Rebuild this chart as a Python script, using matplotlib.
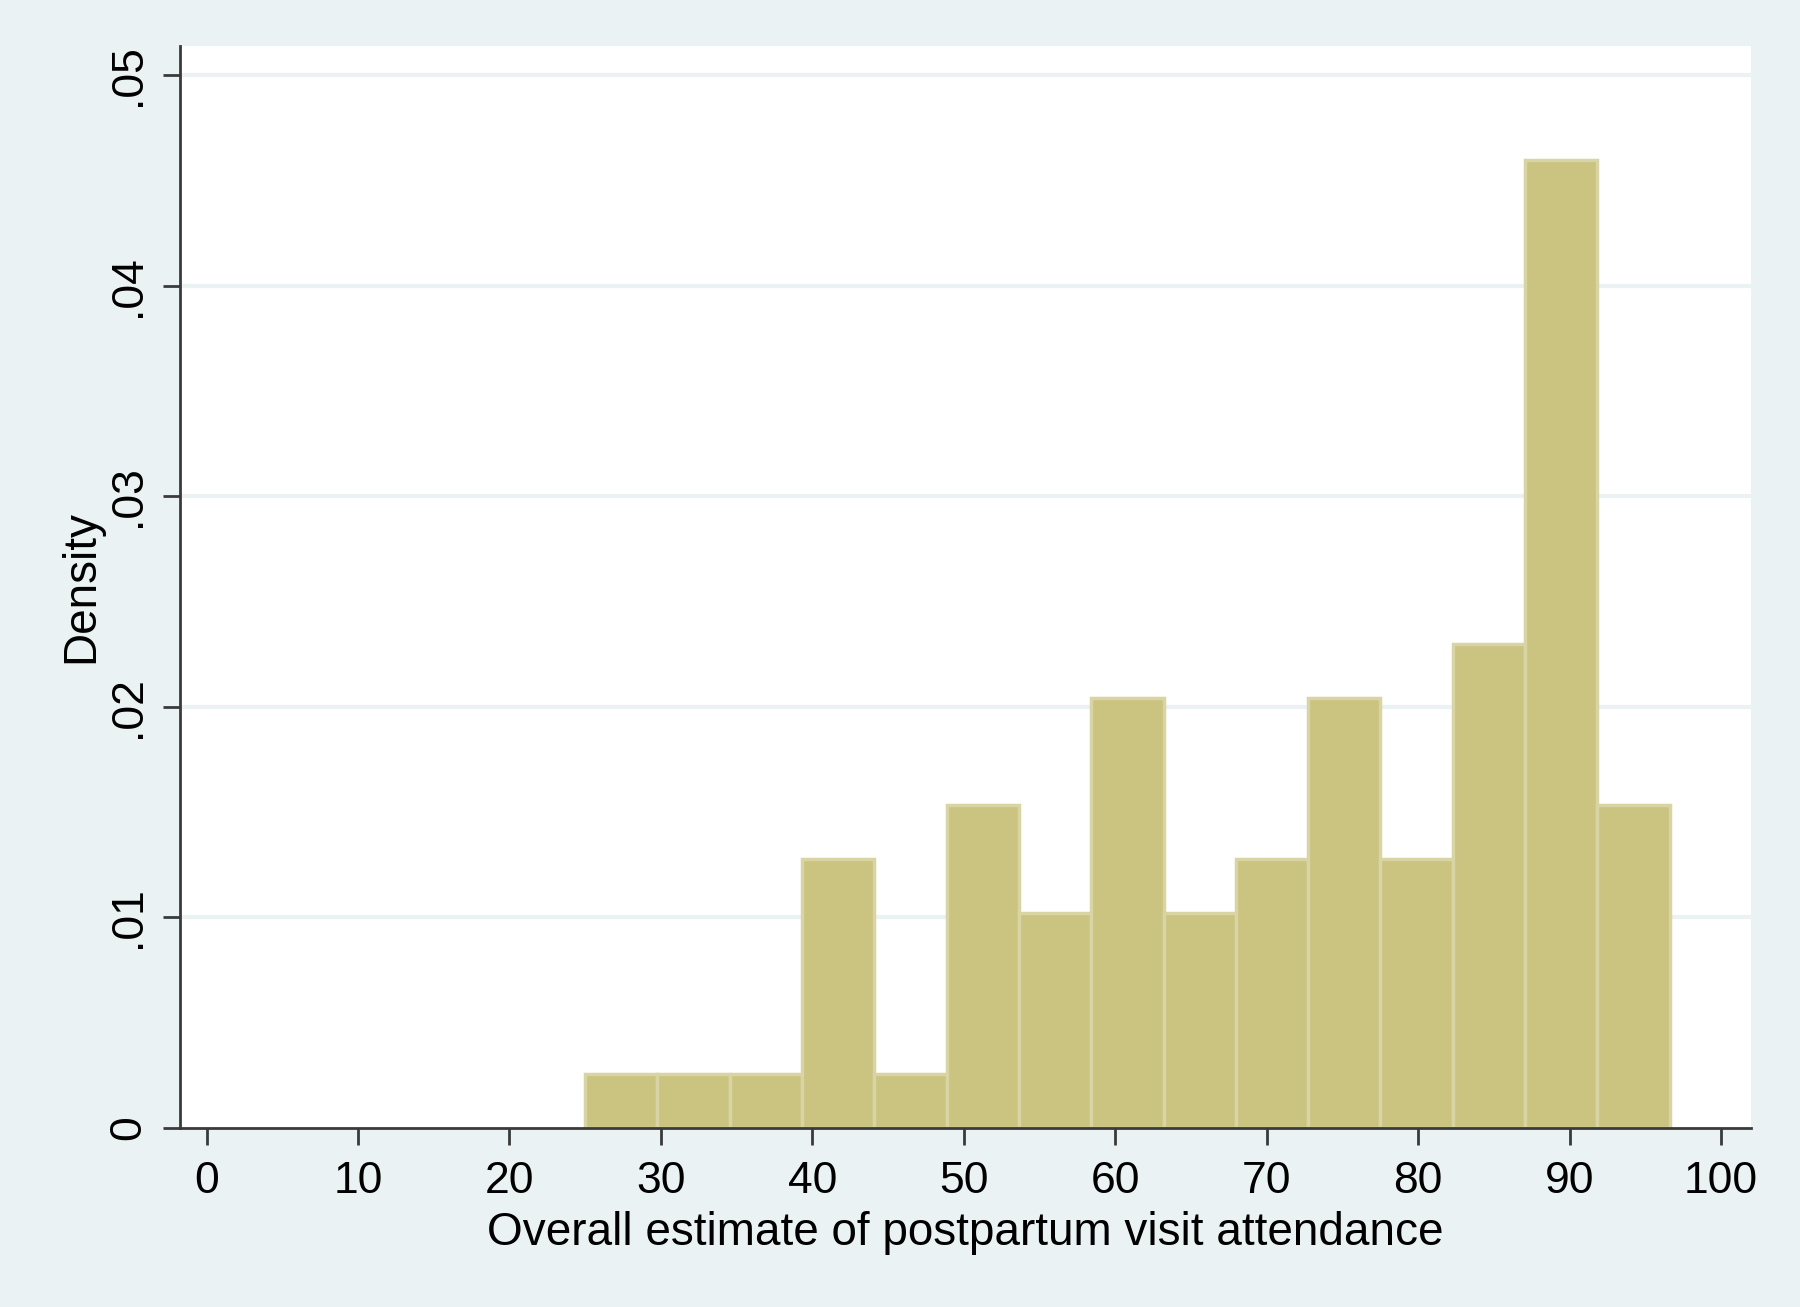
import numpy as np
import matplotlib
matplotlib.use("Agg")
import matplotlib.pyplot as plt

# histogram bins (edges) and bar heights (density)
bin_edges = [25.0, 29.77, 34.55, 39.32, 44.09, 48.87, 53.64, 58.41,
             63.19, 67.96, 72.73, 77.51, 82.28, 87.05, 91.83, 96.6]
density = [0.00255, 0.00255, 0.00255, 0.01277, 0.00255, 0.01532, 0.01022,
           0.02043, 0.01022, 0.01277, 0.02043, 0.01277, 0.02299, 0.04597, 0.01532]

x_ticks = [0, 10, 20, 30, 40, 50, 60, 70, 80, 90, 100]
y_ticks = [0, 0.01, 0.02, 0.03, 0.04, 0.05]
y_ticklabels = ["0", ".01", ".02", ".03", ".04", ".05"]

plt.rcParams['font.family'] = ['Liberation Sans', 'DejaVu Sans']

bg = '#eaf2f3'
fig = plt.figure(figsize=(18, 13.07), dpi=100, facecolor=bg)
ax = fig.add_axes([0.100, 0.137, 0.873, 0.828])
ax.set_facecolor('white')

edges = np.array(bin_edges)
widths = np.diff(edges)
ax.bar(edges[:-1], density, width=widths, align='edge',
       color='#cbc380', edgecolor='#d9d4a4', linewidth=2.5, zorder=2)

ax.set_xlim(-1.75, 102)
ax.set_ylim(0, 0.0514)

ax.set_xticks(x_ticks)
ax.set_yticks(y_ticks)
ax.set_yticklabels(y_ticklabels, rotation=90, va='center')
for v in y_ticks[1:]:
    ax.axhline(v, color=bg, linewidth=3, zorder=1)

for s in ['top', 'right']:
    ax.spines[s].set_visible(False)
for s in ['left', 'bottom']:
    ax.spines[s].set_color('#3a3a3a')
    ax.spines[s].set_linewidth(2)

ax.tick_params(axis='both', length=12, width=2, color='#3a3a3a',
               labelsize=32)
ax.tick_params(axis='x', pad=12)
ax.tick_params(axis='y', pad=10)

ax.set_xlabel('Overall estimate of postpartum visit attendance', fontsize=33, labelpad=6)
ax.set_ylabel('Density', fontsize=33, labelpad=4)

fig.savefig('out.png', dpi=100, facecolor=bg)
